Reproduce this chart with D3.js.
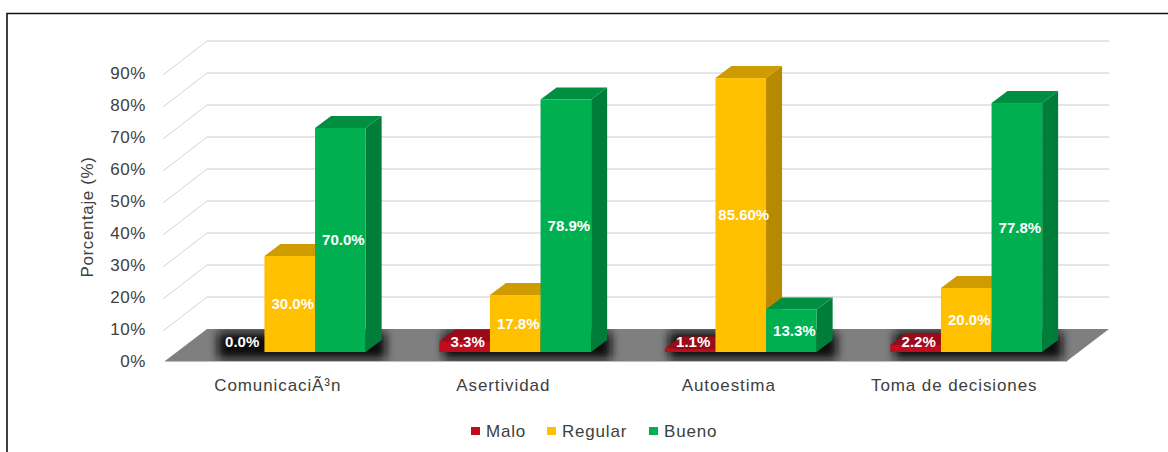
<!DOCTYPE html>
<html lang="en">
<head>
    <title>Porcentaje por dimension</title>
    <script src="https://d3js.org/d3.v7.min.js"></script>
    <style>
        html, body { margin: 0; background: #fff; }
        svg { display: block; }
        text { font-family: "Liberation Sans", Arial, sans-serif; fill: #404040; }
        .barlabel { fill: #fff; font-weight: bold; font-size: 15px; text-anchor: middle; }
    </style>
</head>
<body>

<script>
    const categories = ['Comunicación', 'Asertividad', 'Autoestima', 'Toma de decisiones'];
    const seriesNames = ['Malo', 'Regular', 'Bueno'];
    const seriesColors = ['#c00d1e', '#ffc000', '#00b050'];
    const malo = [0, 3.3, 1.1, 2.2];
    const regular = [30, 17.8, 85.6, 20];
    const bueno = [70, 78.9, 13.3, 77.8];
    const maloLabels = ['0.0%', '3.3%', '1.1%', '2.2%'];
    const regularLabels = ['30.0%', '17.8%', '85.60%', '20.0%'];
    const buenoLabels = ['70.0%', '78.9%', '13.3%', '77.8%'];
    const ticks = [0, 10, 20, 30, 40, 50, 60, 70, 80, 90];

    const series = [malo, regular, bueno];
    const seriesLabels = [maloLabels, regularLabels, buenoLabels];

    const svg = d3.select('body').append('svg').attr('width', 1168).attr('height', 452);

    const defs = svg.append('defs');
    defs.append('filter').attr('id', 'shadow')
        .attr('x', '-30%').attr('y', '-60%').attr('width', '160%').attr('height', '220%')
        .append('feGaussianBlur').attr('stdDeviation', 5);

    // frame, open on the right and at the bottom like the cropped original
    svg.append('path').attr('d', 'M7,452V13.5H1168').attr('fill', 'none')
        .attr('stroke', '#111').attr('stroke-width', 1.6);

    // front plane scale, the back wall is the same thing shifted by the depth
    const y = d3.scaleLinear().domain([0, 90]).range([361, 73]);
    const x = d3.scaleBand().domain(categories).range([165, 1067]);
    const depthX = 42, depthY = -32;
    // bars stand inside the floor
    const barOffX = 12, barOffY = -9, barDepthX = 16, barDepthY = -12;

    const grid = svg.append('g');
    grid.selectAll('line.back').data(ticks.slice(1)).join('line')
        .attr('class', 'back')
        .attr('x1', 165 + depthX).attr('x2', 1067 + depthX)
        .attr('y1', d => y(d) + depthY).attr('y2', d => y(d) + depthY)
        .attr('stroke', '#dcdcdc').attr('stroke-width', 1.4);
    grid.selectAll('line.side').data(ticks.slice(1)).join('line')
        .attr('class', 'side')
        .attr('x1', 163).attr('x2', 165 + depthX)
        .attr('y1', d => y(d) + 2).attr('y2', d => y(d) + depthY)
        .attr('stroke', '#d4d4d4').attr('stroke-width', 1);

    // floor
    svg.append('path')
        .attr('d', `M165,${y(0)}L${165 + depthX},${y(0) + depthY}H${1067 + depthX}L1067,${y(0)}Z`)
        .attr('fill', '#7f7f7f');
    svg.append('line').attr('x1', 165).attr('x2', 1067).attr('y1', y(0) + 0.5).attr('y2', y(0) + 0.5)
        .attr('stroke', '#bdbdbd').attr('stroke-width', 1);

    const barX = (c, s) => {
        const w = 50.6;
        return x(c) + x.bandwidth() / 2 - 1.5 * w + s * w + barOffX;
    };
    const barW = 50.6;

    // blurred shadows on the floor, behind each group
    const floorClip = defs.append('clipPath').attr('id', 'floor');
    floorClip.append('path')
        .attr('d', `M165,${y(0)}L${165 + depthX},${y(0) + depthY}H${1067 + depthX}L1067,${y(0)}Z`);
    const shadows = svg.append('g').attr('clip-path', 'url(#floor)');
    categories.forEach((c, i) => {
        const xs = series.map((s, j) => ({ j, v: s[i] })).filter(d => d.v >= 0);
        shadows.append('rect')
            .attr('x', barX(c, 0) + 4).attr('width', barW * 3 + barDepthX)
            .attr('y', y(0) + depthY + 3).attr('height', 27)
            .attr('fill', '#101010').attr('filter', 'url(#shadow)');
    });

    const base = y(0) + barOffY;
    const h = v => y(0) - y(v);

    // one g per bar, painted left to right so neighbours overlap correctly
    categories.forEach((c, i) => {
        series.forEach((s, j) => {
            const v = s[i];
            if (v === 0) return;
            const x0 = barX(c, j), x1 = x0 + barW, top = base - h(v);
            const col = d3.color(seriesColors[j]);
            const g = svg.append('g');
            g.append('path')
                .attr('d', `M${x1},${base}L${x1 + barDepthX},${base + barDepthY}V${top + barDepthY}L${x1},${top}Z`)
                .attr('fill', col.darker(0.95));
            g.append('path')
                .attr('d', `M${x0},${top}L${x0 + barDepthX},${top + barDepthY}H${x1 + barDepthX}L${x1},${top}Z`)
                .attr('fill', col.darker(0.6));
            g.append('rect')
                .attr('x', x0).attr('width', barW).attr('y', top).attr('height', h(v))
                .attr('fill', col);
        });
    });

    // data labels on top of everything
    categories.forEach((c, i) => {
        series.forEach((s, j) => {
            svg.append('text').attr('class', 'barlabel')
                .attr('x', barX(c, j) + barW / 2 + 3)
                .attr('y', base - h(Math.max(s[i] / 2, 3)) + 5)
                .text(seriesLabels[j][i]);
        });
    });

    // y axis labels
    svg.append('g').selectAll('text').data(ticks).join('text')
        .attr('x', 146).attr('y', d => y(d) + 6)
        .attr('text-anchor', 'end').style('font-size', '17px').style('letter-spacing', '0.6px')
        .text(d => d + '%');

    svg.append('text')
        .attr('transform', 'translate(93,217) rotate(-90)')
        .attr('text-anchor', 'middle').style('font-size', '17px').style('letter-spacing', '0.6px')
        .text('Porcentaje (%)');

    // category labels
    svg.append('g').selectAll('text').data(categories).join('text')
        .attr('x', d => x(d) + x.bandwidth() / 2)
        .attr('y', 391)
        .attr('text-anchor', 'middle').style('font-size', '17px').style('letter-spacing', '0.9px')
        .text(d => d);

    // legend
    const legendX = [471, 547, 649];
    const legend = svg.append('g').selectAll('g').data(seriesNames).join('g')
        .attr('transform', (d, i) => `translate(${legendX[i]},427)`);
    legend.append('rect').attr('width', 9).attr('height', 8).attr('fill', (d, i) => seriesColors[i]);
    legend.append('text').attr('x', 15).attr('y', 10)
        .style('font-size', '17px').style('letter-spacing', '0.8px').text(d => d);
</script>

</body>
</html>
